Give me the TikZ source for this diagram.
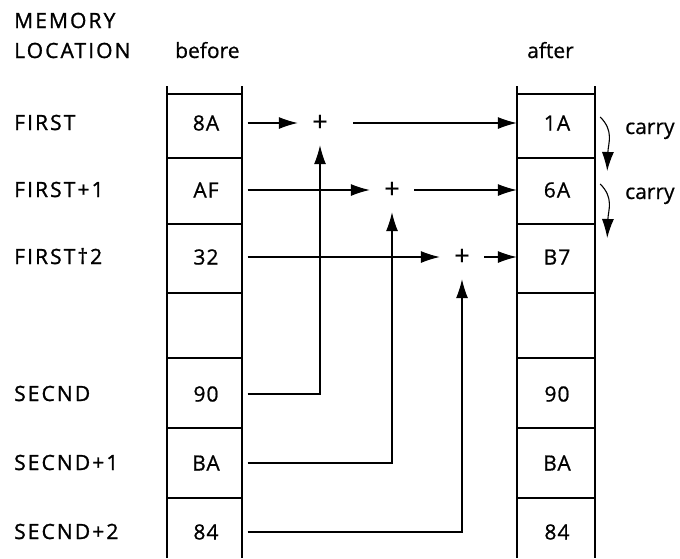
\documentclass[tikz,border=0pt]{standalone}
\usepackage{fontspec}
\setmainfont{Open Sans}[FakeBold=0.6]
\newfontfamily\capsfont{Open Sans}[LetterSpace=10,FakeBold=1.2]
\newfontfamily\cellfont{Open Sans}[LetterSpace=5,FakeBold=0.8]
\usetikzlibrary{arrows.meta}
\begin{document}
\begin{tikzpicture}[x=1pt,y=-1pt,
  lbl/.style={anchor=base west,inner sep=0,font=\fontsize{21}{22}\selectfont},
  clbl/.style={lbl,font=\capsfont\fontsize{21}{22}\selectfont},
  cell/.style={minimum width=75pt,minimum height=50pt,inner sep=0,font=\cellfont\fontsize{21}{22}\selectfont},
  plus/.style={minimum size=44pt,inner sep=0,font=\fontsize{27}{27}\selectfont},
  col/.style={line width=1.8pt},
  conn/.style={line width=1.1pt},
  arr/.style={conn,-{Latex[length=19pt,width=12pt]}}
]
\useasboundingbox (0,0) rectangle (680,558);
% labels
\node[clbl] (m1) at (14,28) {MEMORY};
\node[clbl] (m2) at (14,58) {LOCATION};
\node[lbl] (hb) at (175,58) {before};
\node[lbl] (ha) at (527,58) {after};
\node[clbl] (l1) at (14,130) {FIRST};
\node[clbl] (l2) at (14,197) {FIRST+1};
\node[clbl] (l3) at (14,264) {FIRST†2};
\node[clbl] (l5) at (14,401) {SECND};
\node[clbl] (l6) at (14,470) {SECND+1};
\node[clbl] (l7) at (14,539) {SECND+2};
% columns
\foreach \xl/\xr in {167/242,517/595}{
  \draw[col] (\xl,86) -- (\xl,558);
  \draw[col] (\xr,86) -- (\xr,558);
  \foreach \yy in {94,158,224,293,358,428,498}
    \draw[col] (\xl,\yy) -- (\xr,\yy);
}
% cells before
\node[cell] (b1) at (206,123) {8A};
\node[cell] (b2) at (206,190) {AF};
\node[cell] (b3) at (206,257) {32};
\node[cell] (b4) at (206,325) {};
\node[cell] (b5) at (206,394) {90};
\node[cell] (b6) at (206,463) {BA};
\node[cell] (b7) at (206,532) {84};
% cells after
\node[cell,minimum width=78pt] (a1) at (557,123) {1A};
\node[cell,minimum width=78pt] (a2) at (557,190) {6A};
\node[cell,minimum width=78pt] (a3) at (557,257) {B7};
\node[cell,minimum width=78pt] (a4) at (557,325) {};
\node[cell,minimum width=78pt] (a5) at (557,394) {90};
\node[cell,minimum width=78pt] (a6) at (557,463) {BA};
\node[cell,minimum width=78pt] (a7) at (557,532) {84};
% adders
\node[plus] (p1) at (320,123) {+};
\node[plus] (p2) at (392,190) {+};
\node[plus] (p3) at (462,257) {+};
% connectors
\draw[arr] ([xshift=4pt]b1.east) -- (p1.west);
\draw[arr] ([xshift=4pt]b2.east) -- (p2.west);
\draw[arr] ([xshift=4pt]b3.east) -- (p3.west);
\draw[arr] ([xshift=11pt]p1.east) -- ([xshift=-1pt]a1.west);
\draw[arr] (p2.east) -- ([xshift=-1pt]a2.west);
\draw[arr] (p3.east) -- ([xshift=-1pt]a3.west);
\draw[arr] ([xshift=4pt]b5.east) -| (p1.south);
\draw[arr] ([xshift=4pt]b6.east) -| (p2.south);
\draw[arr] ([xshift=4pt]b7.east) -| (p3.south);
% carries
\draw[arr] ([shift={(4,-6)}]a1.east) .. controls +(14,14) and +(1,-28) .. ([shift={(11,48)}]a1.east);
\draw[arr] ([shift={(4,-6)}]a2.east) .. controls +(14,14) and +(1,-28) .. ([shift={(11,48)}]a2.east);
\node[lbl] (c1) at (625,134) {carry};
\node[lbl] (c2) at (625,199) {carry};
\end{tikzpicture}
\end{document}
